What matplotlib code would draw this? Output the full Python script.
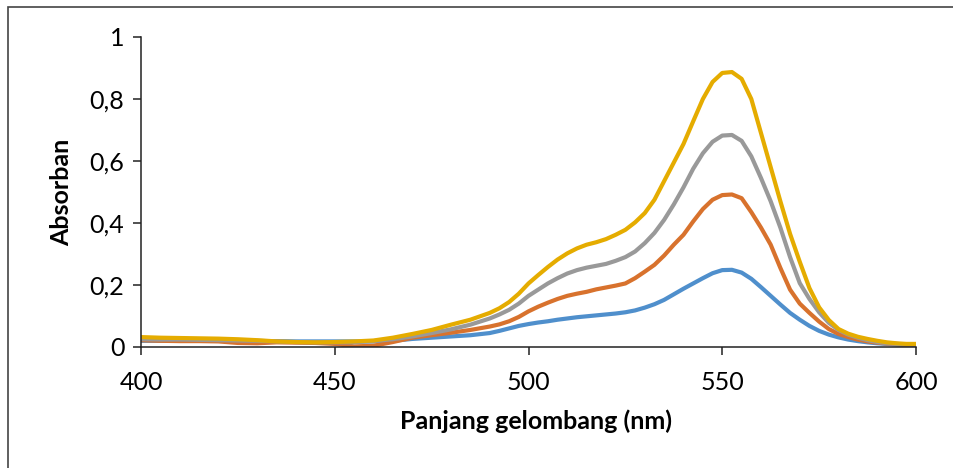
import matplotlib.pyplot as plt
from matplotlib.patches import Rectangle
from matplotlib.ticker import FuncFormatter

plt.rcParams['font.family'] = ['Lato', 'DejaVu Sans']

# wavelength (nm)
wl = [400, 405, 410, 415, 420, 425, 430, 435, 440, 445, 450, 455, 460, 465, 470,
      475, 480, 485, 490, 492.5, 495, 497.5, 500, 502.5, 505, 507.5, 510, 512.5,
      515, 517.5, 520, 522.5, 525, 527.5, 530, 532.5, 535, 537.5, 540, 542.5,
      545, 547.5, 550, 552.5, 555, 557.5, 560, 562.5, 565, 567.5, 570, 572.5,
      575, 577.5, 580, 582.5, 585, 587.5, 590, 592.5, 595, 597.5, 600]

blue = [0.020, 0.020, 0.020, 0.020, 0.020, 0.019, 0.019, 0.019, 0.018, 0.018,
        0.018, 0.018, 0.018, 0.020, 0.026, 0.030, 0.034, 0.038, 0.045, 0.052,
        0.060, 0.068, 0.074, 0.079, 0.083, 0.088, 0.092, 0.096, 0.099, 0.102,
        0.105, 0.108, 0.112, 0.118, 0.127, 0.138, 0.152, 0.170, 0.188, 0.205,
        0.222, 0.238, 0.248, 0.249, 0.240, 0.220, 0.193, 0.165, 0.137, 0.110,
        0.088, 0.068, 0.052, 0.040, 0.031, 0.024, 0.019, 0.015, 0.012, 0.010,
        0.008, 0.007, 0.006]

orange = [0.022, 0.020, 0.019, 0.019, 0.018, 0.013, 0.012, 0.015, 0.014, 0.013,
          0.010, 0.002, 0.004, 0.016, 0.030, 0.038, 0.046, 0.055, 0.066, 0.073,
          0.083, 0.097, 0.115, 0.130, 0.143, 0.155, 0.165, 0.172, 0.178, 0.186,
          0.192, 0.198, 0.205, 0.222, 0.243, 0.265, 0.295, 0.330, 0.362, 0.405,
          0.445, 0.475, 0.490, 0.492, 0.480, 0.435, 0.385, 0.330, 0.255, 0.185,
          0.140, 0.110, 0.082, 0.058, 0.042, 0.032, 0.024, 0.018, 0.014, 0.011,
          0.009, 0.007, 0.006]

gray = [0.025, 0.024, 0.024, 0.023, 0.022, 0.021, 0.020, 0.018, 0.016, 0.015,
        0.015, 0.015, 0.019, 0.025, 0.034, 0.045, 0.057, 0.072, 0.092, 0.105,
        0.120, 0.140, 0.165, 0.185, 0.205, 0.222, 0.237, 0.248, 0.256, 0.262,
        0.268, 0.278, 0.290, 0.308, 0.335, 0.368, 0.410, 0.460, 0.515, 0.575,
        0.625, 0.662, 0.682, 0.684, 0.665, 0.615, 0.545, 0.470, 0.385, 0.290,
        0.206, 0.155, 0.112, 0.078, 0.055, 0.040, 0.030, 0.022, 0.016, 0.012,
        0.010, 0.008, 0.007]

yellow = [0.032, 0.030, 0.029, 0.028, 0.027, 0.025, 0.022, 0.018, 0.016, 0.015,
          0.016, 0.018, 0.021, 0.030, 0.042, 0.055, 0.072, 0.088, 0.110, 0.125,
          0.145, 0.172, 0.205, 0.232, 0.258, 0.282, 0.302, 0.318, 0.330, 0.338,
          0.348, 0.362, 0.378, 0.402, 0.432, 0.475, 0.535, 0.595, 0.655, 0.728,
          0.800, 0.855, 0.884, 0.887, 0.865, 0.800, 0.690, 0.580, 0.470, 0.365,
          0.275, 0.190, 0.128, 0.087, 0.058, 0.043, 0.033, 0.026, 0.020, 0.015,
          0.012, 0.010, 0.010]

series = [(blue, '#4F8FCC'), (orange, '#D8722D'), (gray, '#999999'), (yellow, '#E5AC00')]

fig = plt.figure(figsize=(9.54, 4.68), dpi=100)
ax = fig.add_axes([141 / 954, 1 - 347 / 468, 775 / 954, 310 / 468])

for vals, col in series:
    ax.plot(wl, vals, color=col, lw=3.0, solid_capstyle='round', solid_joinstyle='round')

ax.set_xlim(400, 600)
ax.set_ylim(0, 1)
ax.set_xticks([400, 450, 500, 550, 600])
ax.set_yticks([0, 0.2, 0.4, 0.6, 0.8, 1.0])
ax.yaxis.set_major_formatter(FuncFormatter(lambda v, p: ('%g' % v).replace('.', ',')))

for s in ['top', 'right']:
    ax.spines[s].set_visible(False)
for s in ['left', 'bottom']:
    ax.spines[s].set_linewidth(1.1)
    ax.spines[s].set_color('#222222')
ax.tick_params(direction='out', length=6, width=1.1, color='#222222', labelsize=18, pad=6)
ax.tick_params(axis='x', pad=11)

ax.text(536 / 954, 1 - 421 / 468, 'Panjang gelombang (nm)', transform=fig.transFigure,
        fontsize=18, fontweight='bold', ha='center', va='center')
ax.text(62 / 954, 1 - 192 / 468, 'Absorban', transform=fig.transFigure, rotation=90,
        fontsize=18, fontweight='bold', ha='center', va='center')

# outer chart border
fig.patches.append(Rectangle((8 / 954, -0.1), 1.2, 1 - 7 / 468 + 0.1, transform=fig.transFigure,
                             fill=False, edgecolor='#444444', lw=1.2))

fig.savefig('out.png', dpi=100)
